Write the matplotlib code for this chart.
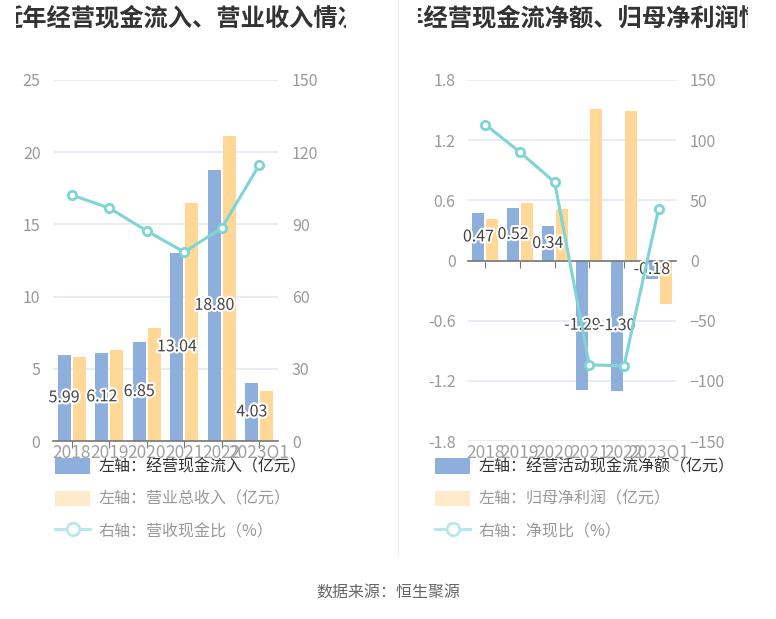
import numpy as np
import matplotlib.pyplot as plt
import matplotlib.patheffects as pe
from matplotlib.patches import Patch
from matplotlib.lines import Line2D

plt.rcParams['font.family'] = ['Noto Sans CJK SC', 'DejaVu Sans']

years = ["2018", "2019", "2020", "2021", "2022", "2023Q1"]

# left chart
cash_in = [5.99, 6.12, 6.85, 13.04, 18.80, 4.03]
revenue = [5.82, 6.30, 7.80, 16.50, 21.10, 3.46]
cash_ratio = [102.2, 96.8, 87.3, 78.5, 88.5, 114.7]

# right chart
net_cash = [0.47, 0.52, 0.34, -1.29, -1.30, -0.18]
net_profit = [0.41, 0.57, 0.51, 1.51, 1.49, -0.43]
net_ratio = [113, 90, 65, -86.7, -87.5, 43]

BLUE = '#8eaedc'
ORANGE = '#ffd898'
TEAL = '#7fd4d6'
W, H = 776, 619


def px_axes(fig, x0, y0, x1, y1):
    return fig.add_axes([x0 / W, 1 - y1 / H, (x1 - x0) / W, (y1 - y0) / H])


def draw_panel(fig, box, bars_a, bars_b, ratio, ylim, yticks, rlim, rticks, ylabels):
    ax = px_axes(fig, *box)
    x = np.arange(len(years))
    ax.bar(x - 0.2, bars_a, width=0.35, color=BLUE, zorder=2)
    ax.bar(x + 0.2, bars_b, width=0.35, color=ORANGE, zorder=2)
    ax.set_xlim(-0.5, len(years) - 0.5)
    ax.set_ylim(*ylim)
    ax.set_yticks(yticks)
    ax.set_yticklabels(ylabels)
    ax.grid(axis='y', color='#e3e8f4', linewidth=1.2, zorder=0)
    ax.set_axisbelow(True)
    for s in ['top', 'right', 'left']:
        ax.spines[s].set_visible(False)
    ax.spines['bottom'].set_position(('data', 0))
    ax.spines['bottom'].set_color('#777777')
    ax.spines['bottom'].set_linewidth(1.2)
    ax.tick_params(axis='y', length=0, pad=9, labelsize=11.5, labelcolor='#999999')
    ax.tick_params(axis='x', length=5, color='#777777', labelbottom=False)
    ax.set_xticks(x)
    for i, yr in enumerate(years):
        ax.text(i, -0.008, yr, transform=ax.get_xaxis_transform(), ha='center', va='top',
                fontsize=12.5, color='#a0a0a0', zorder=1)
    for i, v in enumerate(bars_a):
        ax.text(i - 0.2, v / 2, f"{v:.2f}", ha='center', va='center', fontsize=11.5, color='#444444',
                zorder=5, path_effects=[pe.withStroke(linewidth=3, foreground='white')])
    ax2 = ax.twinx()
    ax2.plot(x, ratio, color=TEAL, linewidth=2.2, marker='o', markersize=6,
             markerfacecolor='white', markeredgecolor=TEAL, markeredgewidth=2, zorder=4)
    ax2.set_ylim(*rlim)
    ax2.set_yticks(rticks)
    for s in ['top', 'right', 'left', 'bottom']:
        ax2.spines[s].set_visible(False)
    ax2.tick_params(axis='y', length=0, pad=10, labelsize=11.5, labelcolor='#999999')
    return ax


fig = plt.figure(figsize=(W / 100, H / 100), dpi=100)

draw_panel(fig, (53, 80, 278, 441), cash_in, revenue, cash_ratio,
           (0, 25), [0, 5, 10, 15, 20, 25], (0, 150), [0, 30, 60, 90, 120, 150],
           ["0", "5", "10", "15", "20", "25"])
draw_panel(fig, (468, 80, 676, 441), net_cash, net_profit, net_ratio,
           (-1.8, 1.8), [-1.8, -1.2, -0.6, 0, 0.6, 1.2, 1.8], (-150, 150),
           [-150, -100, -50, 0, 50, 100, 150],
           ["-1.8", "-1.2", "-0.6", "0", "0.6", "1.2", "1.8"])

# titles, clipped at the panel edges
for (x0, x1), title in [((16, 346), "近年经营现金流入、营业收入情况"),
                        ((418, 748), "近年经营现金流净额、归母净利润情况")]:
    tax = px_axes(fig, x0, 0, x1, 40)
    tax.axis('off')
    tax.text(0.497, 0.55, title, ha='center', va='center', fontsize=17.5,
             fontweight='bold', color='#333333', clip_on=True)

# divider
fig.add_artist(Line2D([398 / W, 398 / W], [1, 1 - 555 / H], color='#eeeeee', linewidth=1))

# legends
legends = [
    (50, ["左轴：经营现金流入（亿元）", "左轴：营业总收入（亿元）", "右轴：营收现金比（%）"]),
    (430, ["左轴：经营活动现金流净额（亿元）", "左轴：归母净利润（亿元）", "右轴：净现比（%）"]),
]
for lx, labels in legends:
    handles = [Patch(facecolor=BLUE, edgecolor='none'),
               Patch(facecolor='#ffebcc', edgecolor='none'),
               Line2D([0], [0], color='#b8e9ea', linewidth=2.2, marker='o', markersize=9,
                      markerfacecolor='white', markeredgecolor='#b8e9ea', markeredgewidth=2)]
    leg = fig.legend(handles, labels, loc='upper left',
                     bbox_to_anchor=(lx / W - 0.012, 1 - 444 / H), frameon=False,
                     fontsize=11.5, handlelength=2.2, handleheight=1.1,
                     handletextpad=0.5, labelspacing=0.95)
    leg.set_zorder(10)
    for i, t in enumerate(leg.get_texts()):
        t.set_color('#333333' if i == 0 else '#999999')

fig.text(388 / W, 1 - 593 / H, "数据来源：恒生聚源", ha='center', va='center',
         fontsize=11.5, color='#666666')

fig.savefig('out.png', dpi=100)
